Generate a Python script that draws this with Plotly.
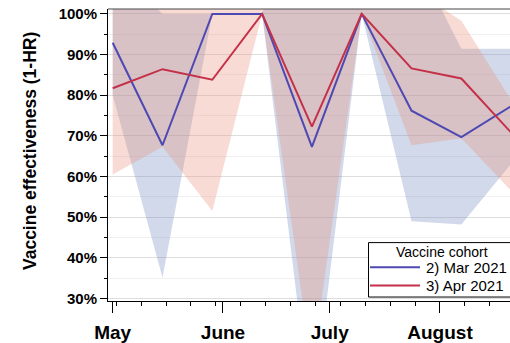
import plotly.graph_objects as go

# Biweekly follow-up dates
dates = ["2021-05-01", "2021-05-15", "2021-05-29", "2021-06-12", "2021-06-26",
         "2021-07-10", "2021-07-24", "2021-08-07", "2021-08-21"]

# Vaccine effectiveness (1-HR), percent, with confidence limits
mar_ve = [92.9, 67.7, 100.0, 100.0, 67.3, 100.0, 76.2, 69.7, 77.3]
mar_lo = [80.0, 35.2, 100.0, 100.0, 0.0, 100.0, 49.0, 48.2, 63.1]
mar_hi = [112.0, 100.0, 100.0, 100.0, 140.0, 130.0, 115.7, 91.4, 91.4]

apr_ve = [81.7, 86.4, 83.8, 100.0, 72.3, 100.0, 86.6, 84.1, 70.8]
apr_lo = [60.5, 67.3, 51.5, 100.0, 13.0, 100.0, 67.7, 69.4, 56.5]
apr_hi = [130.0, 125.0, 120.0, 115.0, 140.0, 130.0, 106.3, 98.3, 78.8]

cohort_names = ["2) Mar 2021", "3) Apr 2021"]
month_ticks = ["2021-05-01", "2021-06-01", "2021-07-01", "2021-08-01"]
month_labels = ["May", "June", "July", "August"]
y_ticks = [30, 40, 50, 60, 70, 80, 90, 100]
y_labels = [f"{v}%" for v in y_ticks]

MAR_LINE = "rgb(78,72,178)"
APR_LINE = "rgb(196,48,72)"
MAR_FILL = "rgba(112,138,189,0.32)"
APR_FILL = "rgba(232,150,130,0.34)"
FONT = "Arial, Liberation Sans, sans-serif"

fig = go.Figure()


def band(lo, hi, color):
    return go.Scatter(
        x=dates + dates[::-1], y=hi + lo[::-1], fill="toself", fillcolor=color,
        line=dict(width=0), mode="lines", hoverinfo="skip", showlegend=False)


fig.add_trace(band(mar_lo, mar_hi, MAR_FILL))
fig.add_trace(band(apr_lo, apr_hi, APR_FILL))
fig.add_trace(go.Scatter(x=dates, y=mar_ve, mode="lines", name=cohort_names[0],
                         line=dict(color=MAR_LINE, width=2), showlegend=False))
fig.add_trace(go.Scatter(x=dates, y=apr_ve, mode="lines", name=cohort_names[1],
                         line=dict(color=APR_LINE, width=2), showlegend=False))

W, H = 510, 343
ML, MR, MT, MB = 108, 0, 9, 39
PW, PH = W - ML - MR, H - MT - MB


def px(x):
    return (x - ML) / PW


def py(y):
    return 1 - (y - MT) / PH


fig.update_layout(
    width=W, height=H,
    margin=dict(l=ML, r=MR, t=MT, b=MB, pad=0),
    plot_bgcolor="white", paper_bgcolor="white",
    font=dict(family=FONT, color="black"),
    xaxis=dict(
        type="date", range=["2021-04-29 16:19", "2021-08-20 16:19"],
        tickmode="array", tickvals=month_ticks, ticktext=month_labels,
        ticks="outside", ticklen=11, tickwidth=1, tickcolor="black",
        tickfont=dict(size=19, family=FONT, weight="bold", color="black"),
        ticklabelstandoff=3,
        showline=True, linecolor="black", linewidth=1, showgrid=False,
        zeroline=False,
        minor=dict(tick0="2021-05-02", dtick=7 * 86400000, ticks="outside",
                   ticklen=4, tickcolor="black", showgrid=False),
    ),
    yaxis=dict(
        range=[29.4, 101.2], tickmode="array", tickvals=y_ticks,
        ticktext=y_labels, ticks="outside", ticklen=7, tickcolor="black",
        tickfont=dict(size=15, family=FONT, weight="bold", color="black"),
        showline=True, linecolor="black", linewidth=1,
        showgrid=True, gridcolor="rgb(222,222,222)", gridwidth=1,
        zeroline=False,
        minor=dict(dtick=5, tick0=0, ticks="outside", ticklen=3.5,
                   tickcolor="black", showgrid=True,
                   gridcolor="rgb(240,240,240)"),
    ),
    showlegend=False,
)

shapes = [
    # frame top edge
    dict(type="line", xref="paper", yref="paper", x0=0, x1=1, y0=1, y1=1,
         line=dict(color="rgb(70,70,70)", width=1)),
    # legend box
    dict(type="rect", xref="paper", yref="paper", layer="above",
         x0=px(368.5), x1=px(540), y0=py(300), y1=py(245),
         fillcolor="white", line=dict(color="black", width=1)),
    dict(type="line", xref="paper", yref="paper", layer="above",
         x0=px(370), x1=px(420), y0=py(270), y1=py(270),
         line=dict(color=MAR_LINE, width=2)),
    dict(type="line", xref="paper", yref="paper", layer="above",
         x0=px(370), x1=px(420), y0=py(288.3), y1=py(288.3),
         line=dict(color=APR_LINE, width=2)),
]
fig.update_layout(shapes=shapes)

annotations = [
    dict(text="Vaccine effectiveness (1-HR)", xref="paper", yref="paper",
         x=px(30), y=py(152.5), textangle=-90, showarrow=False,
         xanchor="center", yanchor="middle",
         font=dict(size=17.5, family=FONT, weight="bold", color="black")),
    dict(text="Vaccine cohort", xref="paper", yref="paper",
         x=px(441.7), y=py(254.3), showarrow=False,
         xanchor="center", yanchor="middle",
         font=dict(size=14, family=FONT, color="black")),
    dict(text=cohort_names[0], xref="paper", yref="paper",
         x=px(424), y=py(270), showarrow=False,
         xanchor="left", yanchor="middle",
         font=dict(size=15, family=FONT, color="black")),
    dict(text=cohort_names[1], xref="paper", yref="paper",
         x=px(424), y=py(288.3), showarrow=False,
         xanchor="left", yanchor="middle",
         font=dict(size=15, family=FONT, color="black")),
]
fig.update_layout(annotations=annotations)

fig.write_html("out.html", config=dict(displayModeBar=False))
